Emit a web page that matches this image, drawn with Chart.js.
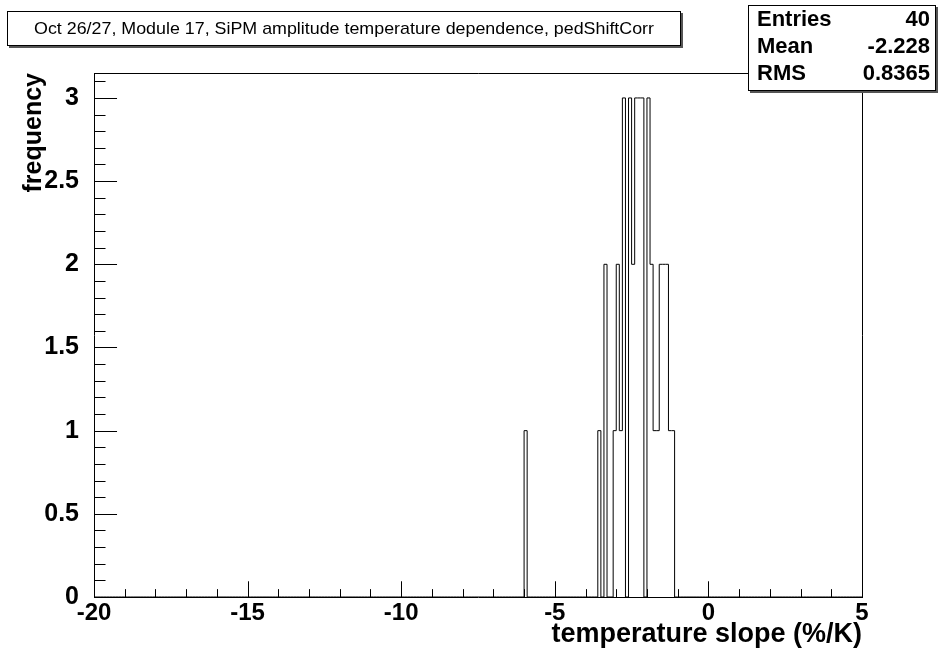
<!DOCTYPE html>
<html lang="en">
<head>
<meta charset="UTF-8">
<title>SiPM amplitude temperature dependence</title>
<script src="https://cdn.jsdelivr.net/npm/chart.js"></script>
<style>
  html, body { margin: 0; padding: 0; background: #ffffff; }
  #wrap { width: 939px; height: 654px; }
</style>
</head>
<body>
<div id="wrap"><canvas id="histo"></canvas></div>
<script>
// histogram: 250 bins of 0.1 from -20 to 5, only non-empty bins listed (low edge, count)
const binLow   = [-5.9, -3.5, -3.3, -3.0, -2.9, -2.8, -2.7, -2.5, -2.4, -2.3, -2.2, -2.1, -1.9, -1.8, -1.7, -1.6, -1.5, -1.4, -1.3, -1.2, -1.1];
const binCount = [1, 1, 2, 1, 2, 1, 3, 3, 2, 3, 3, 3, 3, 2, 1, 1, 2, 2, 2, 1, 1];
const xMin = -20, xMax = 5, nBins = 250;

const xTicks = [-20, -15, -10, -5, 0, 5];
const yTicks = [0, 0.5, 1, 1.5, 2, 2.5, 3];
const yMax = 3.15;

const titleText = 'Oct 26/27, Module 17, SiPM amplitude temperature dependence, pedShiftCorr';
const statNames = ['Entries', 'Mean', 'RMS'];
const statValues = ['40', '-2.228', '0.8365'];

// full bin contents, then step outline points
const binWidth = (xMax - xMin) / nBins;
const counts = new Array(nBins).fill(0);
binLow.forEach((lo, i) => {
    counts[Math.round((lo - xMin) / binWidth)] = binCount[i];
});
const outline = counts.map((c, i) => ({ x: xMin + i * binWidth, y: c }));
outline.push({ x: xMax, y: 0 });

const FONT = "'Liberation Sans', Arial, Helvetica, sans-serif";

// ROOT-style frame, inside ticks, title and stats boxes
const rootDecor = {
    id: 'rootDecor',
    afterDraw(chart) {
        const ctx = chart.ctx;
        const a = chart.chartArea;
        const xs = chart.scales.x, ys = chart.scales.y;
        ctx.save();
        ctx.strokeStyle = '#000';
        ctx.lineWidth = 1;

        // frame top + right
        ctx.beginPath();
        ctx.moveTo(a.left, a.top + 0.5);
        ctx.lineTo(a.right + 0.5, a.top + 0.5);
        ctx.lineTo(a.right + 0.5, a.bottom);
        ctx.stroke();

        // y ticks (inside, pointing right)
        const yMaj = (a.right - a.left) * 0.03;
        ctx.beginPath();
        for (let v = 0; v <= yMax + 1e-9; v += 0.1) {
            const py = Math.round(ys.getPixelForValue(v)) + 0.5;
            const major = Math.abs(v * 2 - Math.round(v * 2)) < 1e-6;
            ctx.moveTo(a.left, py);
            ctx.lineTo(a.left + (major ? yMaj : yMaj / 2), py);
        }
        // x ticks (inside, pointing up)
        const xMaj = (a.bottom - a.top) * 0.03;
        for (let v = xMin; v <= xMax; v += 1) {
            const px = Math.round(xs.getPixelForValue(v)) + 0.5;
            const major = v % 5 === 0;
            ctx.moveTo(px, a.bottom);
            ctx.lineTo(px, a.bottom - (major ? xMaj : xMaj / 2));
        }
        ctx.stroke();

        // title box with shadow
        const tb = { l: 7, t: 11, r: 681, b: 46 };
        ctx.fillStyle = '#555';
        ctx.fillRect(tb.l + 2, tb.t + 2, tb.r - tb.l, tb.b - tb.t);
        ctx.fillStyle = '#fff';
        ctx.fillRect(tb.l, tb.t, tb.r - tb.l, tb.b - tb.t);
        ctx.strokeRect(tb.l + 0.5, tb.t + 0.5, tb.r - tb.l - 1, tb.b - tb.t - 1);
        ctx.fillStyle = '#000';
        ctx.font = '17px ' + FONT;
        ctx.textBaseline = 'middle';
        ctx.textAlign = 'center';
        const tw = ctx.measureText(titleText).width;
        ctx.save();
        ctx.translate((tb.l + tb.r) / 2, (tb.t + tb.b) / 2 + 1);
        ctx.scale(620 / tw, 1);
        ctx.fillText(titleText, 0, 0);
        ctx.restore();

        // stats box with shadow
        const sb = { l: 748, t: 5, r: 936, b: 91 };
        ctx.fillStyle = '#555';
        ctx.fillRect(sb.l + 2, sb.t + 2, sb.r - sb.l, sb.b - sb.t);
        ctx.fillStyle = '#fff';
        ctx.fillRect(sb.l, sb.t, sb.r - sb.l, sb.b - sb.t);
        ctx.strokeRect(sb.l + 0.5, sb.t + 0.5, sb.r - sb.l - 1, sb.b - sb.t - 1);
        ctx.fillStyle = '#000';
        ctx.font = 'bold 22px ' + FONT;
        statNames.forEach((name, i) => {
            const py = sb.t + 15 + i * 27;
            ctx.textAlign = 'left';
            ctx.fillText(name, sb.l + 9, py);
            ctx.textAlign = 'right';
            ctx.fillText(statValues[i], sb.r - 6, py);
        });
        ctx.restore();
    }
};

const ctx = document.getElementById('histo').getContext('2d');
new Chart(ctx, {
    type: 'line',
    data: {
        datasets: [{
            label: 'slopes',
            data: outline,
            stepped: 'after',
            borderColor: '#000',
            borderWidth: 1,
            pointRadius: 0,
            fill: false
        }]
    },
    options: {
        responsive: true,
        maintainAspectRatio: false,
        animation: false,
        layout: { padding: { top: 73, right: 77, left: 0, bottom: 0 } },
        scales: {
            x: {
                type: 'linear',
                min: xMin,
                max: xMax,
                grid: { display: false },
                border: { display: true, color: '#000', width: 1 },
                afterBuildTicks: s => { s.ticks = xTicks.map(v => ({ value: v })); },
                afterFit: s => { s.height = 57; },
                ticks: {
                    color: '#000',
                    padding: -6,
                    maxRotation: 0,
                    autoSkip: false,
                    font: { family: FONT, size: 24, weight: 'bold' },
                    callback: v => String(v)
                },
                title: {
                    display: true,
                    text: 'temperature slope (%/K)',
                    align: 'end',
                    color: '#000',
                    padding: { top: 0, bottom: 3 },
                    font: { family: FONT, size: 27, weight: 'bold' }
                }
            },
            y: {
                type: 'linear',
                min: 0,
                max: yMax,
                grid: { display: false },
                border: { display: true, color: '#000', width: 1 },
                afterBuildTicks: s => { s.ticks = yTicks.map(v => ({ value: v })); },
                afterFit: s => { s.width = 94; },
                ticks: {
                    color: '#000',
                    padding: 7,
                    autoSkip: false,
                    font: { family: FONT, size: 25, weight: 'bold' },
                    callback: v => String(v)
                },
                title: {
                    display: true,
                    text: 'frequency',
                    align: 'end',
                    color: '#000',
                    padding: { top: 19, bottom: 0 },
                    font: { family: FONT, size: 25, weight: 'bold' }
                }
            }
        },
        plugins: {
            legend: { display: false },
            tooltip: { enabled: false }
        }
    },
    plugins: [rootDecor]
});
</script>
</body>
</html>
